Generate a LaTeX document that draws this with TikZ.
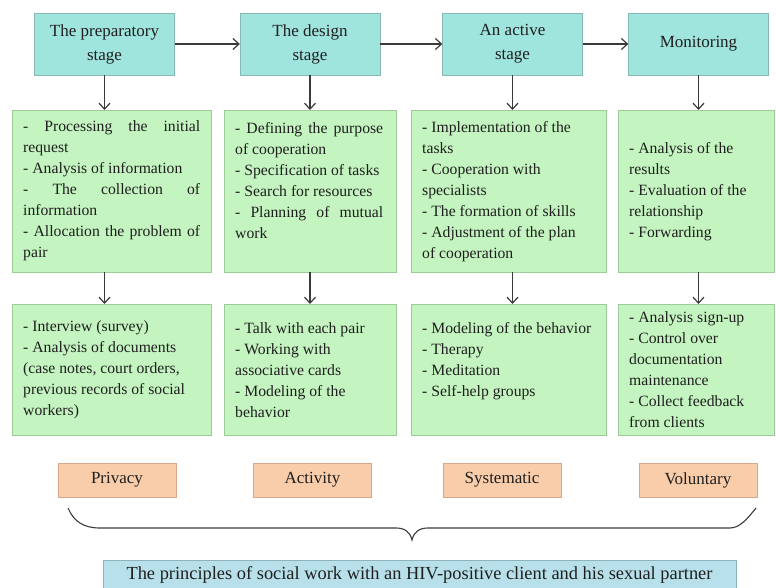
\documentclass[tikz,border=0pt]{standalone}
\usepackage{fontspec}
\setmainfont{Liberation Serif}
\usetikzlibrary{arrows.meta}
\definecolor{stagefill}{HTML}{A0E4DE}
\definecolor{stageline}{HTML}{86B8B4}
\definecolor{taskfill}{HTML}{C4F4C0}
\definecolor{taskline}{HTML}{9CCB98}
\definecolor{principlefill}{HTML}{F9CDAA}
\definecolor{principleline}{HTML}{D9A886}
\definecolor{goalfill}{HTML}{B8E0EA}
\definecolor{goalline}{HTML}{8FB3BD}
\definecolor{inkgray}{HTML}{3A3A3A}
\newcommand{\spreadline}[2]{\leavevmode\hbox to #1{#2}}
\tikzset{
  stage/.style={draw=stageline,fill=stagefill,minimum width=140pt,minimum height=62pt,align=center,font=\fontsize{17}{24}\selectfont,
    execute at begin node={\spaceskip=0pt\xspaceskip=0pt\relax}},
  task/.style={draw=taskline,fill=taskfill,anchor=north west,inner xsep=11pt,inner ysep=0pt,align=left,font=\fontsize{15.7}{21}\selectfont,
    execute at begin node={\spaceskip=0pt\xspaceskip=0pt\relax}},
  principle/.style={draw=principleline,fill=principlefill,minimum width=118pt,minimum height=34pt,font=\fontsize{17}{20}\selectfont},
  goal/.style={draw=goalline,fill=goalfill,minimum width=633pt,minimum height=30pt,font=\fontsize{18.4}{20}\selectfont}
}

\begin{document}
\begin{tikzpicture}[x=1pt,y=-1pt,>={Straight Barb[length=6pt,width=11pt]},text=black!88]
  \useasboundingbox (0,0) rectangle (776,588);

  \node[stage] (S1) at (104.5,44) {The preparatory\\stage};
  \node[stage] (S2) at (310,44) {The design\\stage};
  \node[stage] (S3) at (512.5,44) {An active\\stage};
  \node[stage] (S4) at (698.5,44) {Monitoring};

  \node[task,text width=177pt,minimum height=162pt] (T1) at (12,110)
    {\spreadline{177pt}{- Processing the initial}\\request\\- Analysis of information\\\spreadline{177pt}{- The collection of}\\information\\\spreadline{177pt}{- Allocation the problem of}\\pair};
  \node[task,text width=150pt,minimum height=162pt] (T2) at (224,110)
    {\spreadline{148pt}{- Defining the purpose}\\of cooperation\\- Specification of tasks\\- Search for resources\\\spreadline{148pt}{- Planning of mutual}\\work\\\mbox{}};
  \node[task,text width=173pt,minimum height=162pt] (T3) at (411,110)
    {- Implementation of the\\tasks\\- Cooperation with\\specialists\\- The formation of skills\\- Adjustment of the plan\\of cooperation};
  \node[task,text width=134pt,minimum height=162pt] (T4) at (618,110)
    {- Analysis of the\\results\\- Evaluation of the\\relationship\\- Forwarding};

  \node[task,text width=177pt,minimum height=131pt] (M1) at (12,304)
    {- Interview (survey)\\- Analysis of documents\\(case notes, court orders,\\previous records of social\\workers)};
  \node[task,text width=150pt,minimum height=131pt] (M2) at (224,304)
    {- Talk with each pair\\- Working with\\associative cards\\- Modeling of the\\behavior};
  \node[task,text width=173pt,minimum height=131pt] (M3) at (411,304)
    {\mbox{- Modeling of the behavior}\\- Therapy\\- Meditation\\- Self-help groups\\\mbox{}};
  \node[task,text width=134pt,minimum height=131pt] (M4) at (618,304)
    {- Analysis sign-up\\- Control over\\documentation\\maintenance\\- Collect feedback\\from clients};

  \node[principle] (P1) at (117,480) {Privacy};
  \node[principle] (P2) at (312.5,480) {Activity};
  \node[principle] (P3) at (502,480) {Systematic};
  \node[principle] (P4) at (698,480) {Voluntary};

  \node[goal] (G) at (419.5,575) {The principles of social work with an HIV-positive client and his sexual partner};

  \draw[->,inkgray,line width=1.2pt] (S1) -- (S2);
  \draw[->,inkgray,line width=1.2pt] (S2) -- (S3);
  \draw[->,inkgray,line width=1.2pt] (S3) -- (S4);
  \draw[->,inkgray,line width=1.2pt] (S1) -- (S1 |- T1.north);
  \draw[->,inkgray,line width=1.2pt] (S2) -- (S2 |- T2.north);
  \draw[->,inkgray,line width=1.2pt] (S3) -- (S3 |- T3.north);
  \draw[->,inkgray,line width=1.2pt] (S4) -- (S4 |- T4.north);
  \draw[->,inkgray,line width=1.2pt] (S1 |- T1.south) -- (S1 |- M1.north);
  \draw[->,inkgray,line width=1.2pt] (S2 |- T2.south) -- (S2 |- M2.north);
  \draw[->,inkgray,line width=1.2pt] (S3 |- T3.south) -- (S3 |- M3.north);
  \draw[->,inkgray,line width=1.2pt] (S4 |- T4.south) -- (S4 |- M4.north);

  \draw[inkgray,line width=1.1pt] (68,508) .. controls (74,522) and (84,528) .. (100,528) -- (396,528)
    .. controls (405,528) and (410,532) .. (412,540) .. controls (414,532) and (419,528) .. (428,528)
    -- (730,528) .. controls (740,528) and (748,518) .. (756,508);
\end{tikzpicture}
\end{document}
